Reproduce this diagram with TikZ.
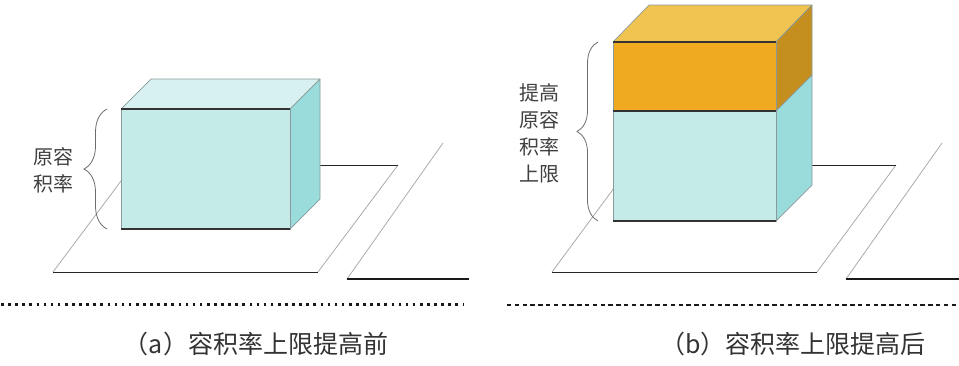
\documentclass[tikz,border=0pt]{standalone}
\usepackage{fontspec}
\newfontfamily\cjk{Noto Sans CJK SC}
\usetikzlibrary{decorations.pathreplacing}
\definecolor{cyanfront}{HTML}{C5EBE9}
\definecolor{cyantop}{HTML}{D6F1EF}
\definecolor{cyanside}{HTML}{9ADCDC}
\definecolor{orfront}{HTML}{EFAA22}
\definecolor{ortop}{HTML}{F1C451}
\definecolor{orside}{HTML}{C48F1E}
\definecolor{edgegray}{HTML}{8A9A9A}
\definecolor{groundgray}{HTML}{ABABAB}
\tikzset{
  face/.style={draw=edgegray, line width=0.7pt, line join=round},
  darkedge/.style={draw=black!80, line width=1.6pt},
  groundblack/.style={draw=black!85, line width=1pt},
  groundside/.style={draw=groundgray, line width=0.8pt},
  thickline/.style={draw=black!90, line width=2.6pt},
  bracestyle/.style={draw=gray!85!black, line width=0.8pt, decorate},
  labeltext/.style={font=\cjk\fontsize{20}{27}\selectfont, text=black!75, align=center, inner sep=0pt},
  captiontext/.style={font=\cjk\fontsize{25}{30}\selectfont, text=black!80, inner sep=0pt},
  dotline/.style={draw=black!90, line width=2.6pt, dash pattern=on 2.6pt off 4.5pt},
  dashline/.style={draw=black!90, line width=2pt, dash pattern=on 4.4pt off 3.4pt}
}
\begin{document}
\begin{tikzpicture}[x=1pt,y=-1pt]
\useasboundingbox (0,0) rectangle (959,365);
% ===== Left panel =====
% ground
\draw[groundside] (53,272) -- (133,165);
\draw[groundside] (318,272) -- (398,165);
\draw[groundblack] (53,272) -- (318,272);
\draw[groundblack] (133,165) -- (398,165);
\draw[groundside] (347,279) -- (443,143);
\draw[thickline] (347,279) -- (469,279);
% box
\filldraw[face, fill=cyantop] (121,109) -- (151,79) -- (320,79) -- (290,109) -- cycle;
\filldraw[face, fill=cyanside] (290,109) -- (320,79) -- (320,199) -- (290,229) -- cycle;
\filldraw[face, fill=cyanfront] (121,109) rectangle (290,229);
\draw[darkedge] (121,109) -- (290,109);
\draw[darkedge] (121,229) -- (290,229);
% brace
\draw[bracestyle, decoration={brace, amplitude=23pt}] (107,229) -- (107,109);
\node[labeltext] (la) at (53,170) {原容\\积率};
% dotted separator
\draw[dotline] (1,304.5) -- (463,304.5);
\node[captiontext] (ca) at (256,344) {（a）容积率上限提高前};
% ===== Right panel =====
\draw[groundside] (552,272) -- (631,165);
\draw[groundside] (817,272) -- (896,165);
\draw[groundblack] (552,272) -- (817,272);
\draw[groundblack] (631,165) -- (896,165);
\draw[groundside] (846,279) -- (942,143);
\draw[thickline] (846,279) -- (959,279);
% box: orange top part
\filldraw[face, fill=ortop] (613,42) -- (649,5) -- (812,5) -- (776,42) -- cycle;
\filldraw[face, fill=orside] (776,42) -- (812,5) -- (812,75) -- (776,111) -- cycle;
\filldraw[face, fill=cyanside] (776,111) -- (812,75) -- (812,185) -- (776,221) -- cycle;
\filldraw[face, fill=orfront] (613,42) rectangle (776,111);
\filldraw[face, fill=cyanfront] (613,111) rectangle (776,221);
\draw[darkedge] (613,42) -- (776,42);
\draw[darkedge] (613,111) -- (776,111);
\draw[darkedge] (613,221) -- (776,221);
% brace
\draw[bracestyle, decoration={brace, amplitude=21pt}] (598,221) -- (598,42);
\node[labeltext] (lb) at (539,133) {提高\\原容\\积率\\上限};
% dashed separator
\draw[dashline] (507,304.5) -- (959,304.5);
\node[captiontext] (cb) at (793,344) {（b）容积率上限提高后};
\end{tikzpicture}
\end{document}
